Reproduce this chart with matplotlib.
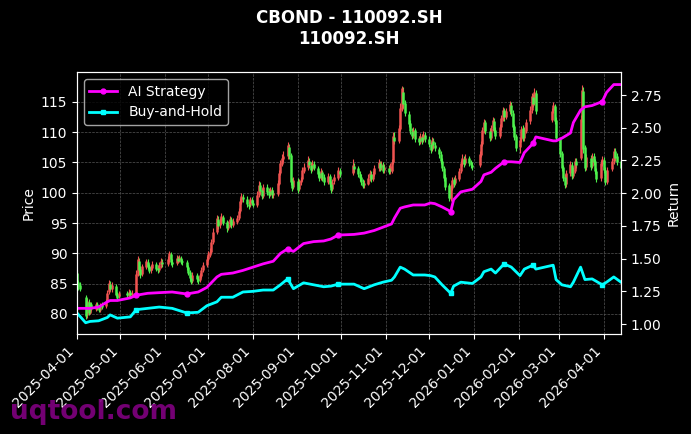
import pandas as pd
import matplotlib
matplotlib.use("Agg")
import matplotlib.pyplot as plt
import matplotlib.dates as mdates
from matplotlib.ticker import MultipleLocator, FormatStrFormatter

title = "CBOND - 110092.SH\n110092.SH"

# exchange holidays (no candles)
holidays = ["2025-04-04", "2025-05-01", "2025-05-02", "2025-05-05", "2025-06-02",
            "2025-10-01", "2025-10-02", "2025-10-03", "2025-10-06", "2025-10-07", "2025-10-08",
            "2026-01-01", "2026-01-02", "2026-02-16", "2026-02-17", "2026-02-18",
            "2026-02-19", "2026-02-20", "2026-02-23", "2026-04-06"]

open_ = [
    # 2025-04 (21)
    86.8, 85.2, 84.8, 82.8, 79.8, 82.0, 80.2, 81.6, 80.8, 81.7, 81.1, 80.7, 81.5, 81.3, 82.2, 83.6, 85.0, 84.1, 84.6, 83.2, 82.9,
    # 2025-05 (19)
    83.4, 83.0, 83.6, 83.2, 83.0, 86.5, 88.8, 87.4, 86.6, 87.8, 88.6, 87.9, 87.2, 87.6, 88.2, 87.6, 87.3, 88.0, 88.6,
    # 2025-06 (20)
    88.3, 89.0, 89.9, 88.6, 88.4, 89.2, 88.9, 89.3, 88.7, 88.6, 87.8, 86.9, 86.0, 85.5, 86.4, 85.8, 85.6, 86.3, 87.2, 88.0,
    # 2025-07 (23)
    89.0, 89.8, 90.3, 91.8, 93.5, 95.6, 94.6, 95.3, 96.0, 95.1, 94.2, 94.8, 95.6, 94.7, 95.2, 95.8, 96.9, 98.5, 99.3, 99.0, 98.2, 97.9, 98.8,
    # 2025-08 (21)
    98.3, 98.0, 99.6, 101.2, 100.4, 99.5, 101.0, 100.2, 99.8, 100.5, 99.7, 99.8, 101.5, 103.2, 104.8, 105.6, 106.0, 107.6, 106.2, 102.0, 101.0,
    # 2025-09 (22)
    102.0, 100.6, 101.8, 102.2, 103.6, 104.2, 105.3, 104.6, 103.9, 104.8, 104.0, 103.2, 102.5, 103.4, 102.6, 101.8, 102.7, 101.5, 100.6, 101.9, 102.5, 103.6,
    # 2025-10 (17)
    103.2, 104.4, 104.0, 103.1, 102.6, 101.8, 101.2, 101.5, 102.4, 103.1, 102.3, 103.0, 104.0, 104.9, 104.2, 104.6, 103.7,
    # 2025-11 (20)
    104.0, 103.5, 103.6, 105.0, 109.2, 108.6, 110.5, 113.8, 116.6, 114.8, 113.0, 111.5, 110.2, 109.4, 110.3, 109.0, 108.4, 109.2, 108.7, 109.5,
    # 2025-12 (23)
    108.8, 108.0, 107.2, 108.6, 107.9, 107.2, 106.4, 105.3, 104.0, 102.6, 101.2, 99.0, 100.8, 102.2, 101.6, 102.3, 103.5, 104.8, 105.6, 104.9, 105.7, 105.0, 104.6,
    # 2026-01 (20)
    104.5, 106.2, 108.0, 110.3, 111.6, 110.2, 109.1, 110.6, 111.9, 110.4, 109.4, 110.8, 112.2, 113.6, 112.5, 113.4, 114.5, 113.2, 111.0, 109.3,
    # 2026-02 (14)
    107.5, 108.8, 110.6, 109.0, 110.2, 111.8, 113.6, 115.8, 114.8, 116.5, 112.0, 113.6, 114.3, 112.0,
    # 2026-03 (22)
    108.8, 106.5, 104.2, 102.6, 101.4, 103.2, 104.6, 102.8, 103.6, 105.2, 105.8, 112.0, 116.8, 107.5, 104.2, 105.8, 104.4, 106.0, 105.2, 103.6, 102.4, 104.8,
    # 2026-04 (8)
    105.4, 103.8, 101.8, 103.9, 105.2, 106.9, 106.0, 105.2,
]

close = [
    85.0, 84.6, 84.2, 79.6, 82.2, 80.1, 81.5, 80.9, 81.6, 81.0, 80.7, 81.4, 81.2, 82.0, 83.5, 85.1, 84.2, 84.8, 83.2, 82.7, 83.4,
    83.1, 83.7, 83.1, 83.5, 86.6, 89.0, 87.3, 86.5, 87.9, 88.7, 87.8, 87.1, 87.7, 88.3, 87.5, 87.2, 88.1, 88.7, 88.2,
    89.1, 90.0, 88.5, 88.3, 89.3, 88.8, 89.4, 88.6, 88.5, 87.7, 86.8, 85.9, 85.3, 86.5, 85.7, 85.5, 86.4, 87.3, 88.1, 89.0,
    89.9, 90.2, 91.9, 93.6, 95.8, 94.5, 95.4, 96.1, 95.0, 94.1, 94.9, 95.7, 94.6, 95.3, 95.9, 97.0, 98.6, 99.5, 98.9, 98.1, 97.8, 98.9, 98.3,
    98.0, 99.7, 101.3, 100.3, 99.4, 100.9, 100.1, 99.7, 100.6, 99.6, 99.9, 101.6, 103.3, 104.9, 105.8, 106.1, 107.8, 106.0, 101.8, 100.8, 102.1,
    100.5, 101.9, 102.1, 103.7, 104.3, 105.4, 104.5, 103.8, 104.9, 104.1, 103.1, 102.4, 103.5, 102.5, 101.7, 102.8, 101.4, 100.5, 101.8, 102.6, 103.7, 103.1,
    104.6, 103.9, 103.0, 102.5, 101.7, 101.1, 101.6, 102.5, 103.2, 102.2, 103.1, 104.1, 105.0, 104.1, 104.7, 103.6, 104.2,
    103.4, 104.4, 105.1, 109.4, 108.5, 110.6, 114.0, 117.2, 114.6, 113.2, 111.4, 110.1, 109.3, 110.4, 108.9, 108.3, 109.3, 108.6, 109.6, 108.8,
    108.1, 107.1, 108.7, 107.8, 107.3, 106.3, 105.2, 104.1, 102.5, 101.0, 99.1, 100.9, 102.1, 101.5, 102.4, 103.6, 104.9, 105.7, 104.8, 105.8, 104.9, 104.5, 104.3,
    106.3, 108.1, 110.4, 111.7, 110.1, 109.0, 110.7, 112.0, 110.3, 109.3, 110.9, 112.3, 113.7, 112.4, 113.5, 114.6, 113.1, 110.9, 109.2, 107.4,
    108.7, 110.5, 109.1, 110.3, 111.7, 113.7, 115.9, 114.6, 116.6, 113.4, 113.5, 114.4, 111.9, 109.0,
    106.4, 104.0, 102.5, 101.2, 103.3, 104.8, 102.7, 103.7, 105.3, 104.5, 112.2, 116.9, 107.2, 104.1, 105.9, 104.3, 106.1, 105.0, 103.5, 102.2, 104.9, 105.6,
    103.7, 101.7, 103.8, 105.3, 106.8, 105.8, 105.1, 104.0,
]

high = [
    87.2, 85.6, 85.3, 83.2, 82.6, 82.5, 82.0, 82.0, 82.0, 82.0, 81.5, 81.8, 81.9, 82.4, 84.0, 85.6, 85.4, 85.2, 84.9, 83.6, 83.8,
    83.8, 84.1, 84.0, 83.9, 87.2, 89.6, 89.3, 87.9, 88.3, 89.1, 89.0, 88.3, 88.1, 88.7, 88.6, 88.0, 88.5, 89.2, 89.0,
    89.5, 90.4, 90.2, 89.0, 89.7, 89.6, 89.8, 89.6, 89.1, 88.9, 88.1, 87.3, 86.4, 86.9, 86.8, 86.2, 86.8, 87.7, 88.5, 89.5,
    90.4, 90.8, 92.4, 94.2, 96.4, 96.1, 95.9, 96.6, 96.4, 95.5, 95.3, 96.1, 96.0, 95.8, 96.4, 97.5, 99.1, 100.0, 99.8, 99.4, 98.7, 99.3, 99.3,
    98.8, 100.2, 101.9, 101.7, 100.8, 101.4, 101.5, 100.7, 101.0, 100.9, 100.4, 102.1, 103.8, 105.4, 106.4, 106.8, 108.3, 108.0, 106.6, 102.5, 102.6,
    102.4, 102.3, 102.6, 104.2, 104.9, 106.0, 105.8, 105.0, 105.4, 105.2, 104.4, 103.6, 104.0, 103.8, 103.0, 103.3, 103.1, 101.9, 102.3, 103.1, 104.3, 104.1,
    105.6, 104.9, 104.4, 103.6, 103.0, 102.2, 102.1, 103.0, 103.8, 103.5, 103.6, 104.6, 105.5, 105.3, 105.2, 105.0, 104.7,
    104.5, 104.9, 105.6, 110.0, 110.0, 111.2, 114.8, 117.6, 117.4, 115.3, 113.5, 112.0, 110.7, 110.9, 110.7, 109.4, 109.8, 109.6, 110.1, 110.0,
    109.3, 108.4, 109.2, 109.0, 108.3, 107.6, 106.8, 105.7, 104.4, 103.0, 101.6, 101.4, 102.6, 102.6, 102.9, 104.1, 105.4, 106.3, 106.0, 106.3, 106.1, 105.4, 105.0,
    106.8, 108.6, 110.9, 112.2, 112.0, 110.6, 111.2, 112.5, 112.3, 110.8, 111.4, 112.8, 114.2, 114.0, 114.0, 115.1, 114.9, 113.6, 111.4, 109.7,
    109.2, 111.0, 111.1, 110.8, 112.2, 114.3, 116.5, 116.3, 117.2, 117.0, 114.0, 114.9, 114.7, 112.4,
    109.2, 106.9, 104.6, 103.0, 103.8, 105.3, 105.0, 104.2, 105.8, 105.7, 112.8, 117.8, 117.4, 107.9, 106.4, 106.2, 106.6, 106.5, 105.6, 104.0, 105.4, 106.1,
    105.9, 104.2, 104.3, 105.8, 107.4, 107.3, 106.5, 105.6,
]

low = [
    84.6, 84.0, 83.8, 79.2, 79.4, 79.8, 80.0, 80.5, 80.5, 80.6, 80.3, 80.4, 80.9, 81.0, 81.9, 83.3, 83.8, 83.7, 82.9, 82.3, 82.6,
    82.7, 82.7, 82.8, 82.9, 82.8, 86.2, 86.9, 86.0, 86.2, 87.4, 87.4, 86.7, 86.8, 87.2, 87.1, 86.8, 86.9, 87.6, 87.8,
    87.9, 88.6, 88.1, 87.8, 88.0, 88.4, 88.5, 88.2, 88.0, 87.3, 86.4, 85.5, 84.9, 85.1, 85.3, 85.0, 85.3, 86.0, 86.9, 87.7,
    88.7, 89.4, 90.0, 91.5, 93.2, 94.0, 94.2, 94.9, 94.6, 93.5, 93.8, 94.4, 94.2, 94.3, 94.8, 95.5, 96.6, 98.1, 98.4, 97.7, 97.3, 97.6, 97.9,
    97.6, 97.7, 99.3, 99.8, 98.9, 99.1, 99.7, 99.2, 99.4, 99.1, 99.2, 99.5, 101.2, 102.9, 104.4, 105.1, 105.6, 105.5, 101.2, 100.3, 100.6,
    100.0, 100.2, 101.3, 101.9, 103.2, 103.8, 104.0, 103.3, 103.5, 103.7, 102.6, 101.9, 102.1, 102.0, 101.2, 101.4, 100.9, 100.0, 100.2, 101.5, 102.1, 102.6,
    102.9, 103.4, 102.6, 102.0, 101.2, 100.7, 100.8, 101.2, 102.0, 101.7, 101.9, 102.7, 103.6, 103.6, 103.8, 103.2, 103.3,
    103.0, 103.1, 103.3, 104.7, 108.0, 108.2, 110.1, 113.4, 114.0, 112.6, 110.9, 109.6, 108.8, 109.0, 108.4, 107.8, 108.0, 108.1, 108.3, 108.3,
    107.6, 106.6, 106.9, 107.3, 106.8, 105.8, 104.7, 103.6, 102.0, 100.5, 98.6, 98.6, 100.4, 101.0, 101.2, 102.0, 103.2, 104.4, 104.3, 104.5, 104.4, 104.0, 103.8,
    104.2, 105.9, 107.7, 109.9, 109.6, 108.5, 108.7, 110.2, 109.8, 108.8, 109.0, 110.4, 111.8, 111.9, 112.1, 113.0, 112.6, 110.4, 108.7, 106.9,
    106.6, 108.4, 108.6, 108.6, 109.8, 111.4, 113.2, 114.1, 114.4, 112.9, 111.6, 113.1, 111.4, 108.5,
    105.9, 103.5, 102.0, 100.8, 101.0, 102.8, 102.2, 102.4, 103.2, 104.0, 105.4, 111.6, 106.6, 103.6, 103.8, 103.8, 104.0, 104.5, 103.0, 101.7, 102.0, 104.4,
    103.2, 101.2, 101.4, 103.5, 104.8, 105.3, 104.6, 103.5,
]

line_dates = ["2025-04-01", "2025-04-03", "2025-04-07", "2025-04-10", "2025-04-16", "2025-04-22",
              "2025-04-24", "2025-04-29", "2025-05-08", "2025-05-12", "2025-05-20", "2025-05-28",
              "2025-06-06", "2025-06-16", "2025-06-24", "2025-06-30", "2025-07-07", "2025-07-10",
              "2025-07-18", "2025-07-25", "2025-08-01", "2025-08-08", "2025-08-15", "2025-08-20",
              "2025-08-25", "2025-08-29", "2025-09-05", "2025-09-12", "2025-09-19", "2025-09-24",
              "2025-09-29", "2025-10-10", "2025-10-17", "2025-10-24", "2025-10-30", "2025-11-05",
              "2025-11-07", "2025-11-11", "2025-11-14", "2025-11-20", "2025-11-28", "2025-12-02",
              "2025-12-05", "2025-12-10", "2025-12-16", "2025-12-18", "2025-12-23", "2025-12-31",
              "2026-01-06", "2026-01-08", "2026-01-13", "2026-01-16", "2026-01-22", "2026-01-27",
              "2026-02-02", "2026-02-05", "2026-02-11", "2026-02-13", "2026-02-25", "2026-02-27",
              "2026-03-03", "2026-03-09", "2026-03-11", "2026-03-16", "2026-03-19", "2026-03-24",
              "2026-03-31", "2026-04-03", "2026-04-08", "2026-04-13"]

ai_ret = [1.12, 1.12, 1.12, 1.12, 1.13, 1.17,
          1.18, 1.18, 1.20, 1.22, 1.235, 1.24,
          1.245, 1.23, 1.245, 1.28, 1.36, 1.38,
          1.39, 1.41, 1.435, 1.46, 1.48, 1.54,
          1.575, 1.555, 1.615, 1.63, 1.635, 1.65,
          1.68, 1.685, 1.695, 1.715, 1.74, 1.765,
          1.81, 1.885, 1.895, 1.91, 1.91, 1.925,
          1.92, 1.895, 1.86, 1.95, 2.01, 2.03,
          2.09, 2.14, 2.16, 2.19, 2.24, 2.24,
          2.235, 2.31, 2.38, 2.43, 2.40, 2.40,
          2.42, 2.46, 2.54, 2.635, 2.66, 2.67,
          2.70, 2.77, 2.83, 2.83]

bh_ret = [1.085, 1.06, 1.01, 1.02, 1.025, 1.05,
          1.07, 1.045, 1.055, 1.11, 1.12, 1.13,
          1.12, 1.085, 1.09, 1.14, 1.17, 1.205,
          1.205, 1.245, 1.25, 1.26, 1.26, 1.30,
          1.345, 1.27, 1.315, 1.30, 1.285, 1.29,
          1.305, 1.305, 1.27, 1.30, 1.32, 1.335,
          1.36, 1.435, 1.42, 1.375, 1.375, 1.37,
          1.36, 1.30, 1.235, 1.29, 1.32, 1.31,
          1.36, 1.40, 1.42, 1.39, 1.46, 1.435,
          1.37, 1.42, 1.45, 1.42, 1.45, 1.34,
          1.30, 1.285, 1.32, 1.435, 1.34, 1.345,
          1.30, 1.32, 1.36, 1.32]

trade_dates = ["2025-05-12", "2025-06-16", "2025-08-25", "2025-09-29",
               "2025-12-16", "2026-01-22", "2026-02-11", "2026-03-31"]

dates = pd.bdate_range("2025-04-01", "2026-04-13")
dates = dates[~dates.isin(pd.to_datetime(holidays))]
assert len(dates) == len(open_) == len(close) == len(high) == len(low)

df = pd.DataFrame({"open": open_, "close": close, "high": high, "low": low}, index=dates)
up = df[df["close"] >= df["open"]]
down = df[df["close"] < df["open"]]

ld = pd.to_datetime(line_dates)
td = set(pd.to_datetime(trade_dates))
marks = [i for i, d in enumerate(ld) if d in td]

plt.style.use("dark_background")
fig = plt.figure(figsize=(6.91, 4.34), dpi=100)
ax = fig.add_axes([0.1114, 0.2304, 0.7873, 0.6037])

red, green = "#ef5350", "#4cf04c"
ax.vlines(up.index, up["low"], up["high"], color=red, lw=0.8)
ax.vlines(down.index, down["low"], down["high"], color=green, lw=0.8)
ax.vlines(up.index, up["open"], up["close"], color=red, lw=1.8)
ax.vlines(down.index, down["open"], down["close"], color=green, lw=1.8)

ax.set_xlim(dates[0], dates[-1])
ax.set_ylim(76.7, 119.9)
ax.yaxis.set_major_locator(MultipleLocator(5))
ax.set_ylabel("Price", fontsize=10)
ax.xaxis.set_major_locator(mdates.MonthLocator())
ax.xaxis.set_major_formatter(mdates.DateFormatter("%Y-%m-%d"))
plt.setp(ax.get_xticklabels(), rotation=45, ha="right")
ax.grid(True, ls="--", lw=0.5, color="#555555")
ax.tick_params(labelsize=10)

ax2 = ax.twinx()
ax2.plot(ld, ai_ret, color="#ff00ff", lw=2, marker="o", ms=3.5,
         markevery=marks, label="AI Strategy")
ax2.plot(ld, bh_ret, color="#00ffff", lw=2, marker="s", ms=3.5,
         markevery=marks, label="Buy-and-Hold")
ax2.set_ylim(0.924, 2.926)
ax2.yaxis.set_major_locator(MultipleLocator(0.25))
ax2.yaxis.set_major_formatter(FormatStrFormatter("%.2f"))
ax2.set_ylabel("Return", fontsize=10)
ax2.tick_params(labelsize=10)
ax2.set_xlim(dates[0], dates[-1])
ax2.legend(loc="upper left", fontsize=10, facecolor="black", edgecolor="#cccccc")

ax.set_title(title, fontsize=12, fontweight="bold", pad=20)

fig.text(0.015, 0.035, "uqtool.com", fontsize=19, fontweight="bold",
         color="#800080", alpha=0.9)

fig.savefig("out.png", dpi=100, facecolor="black")
